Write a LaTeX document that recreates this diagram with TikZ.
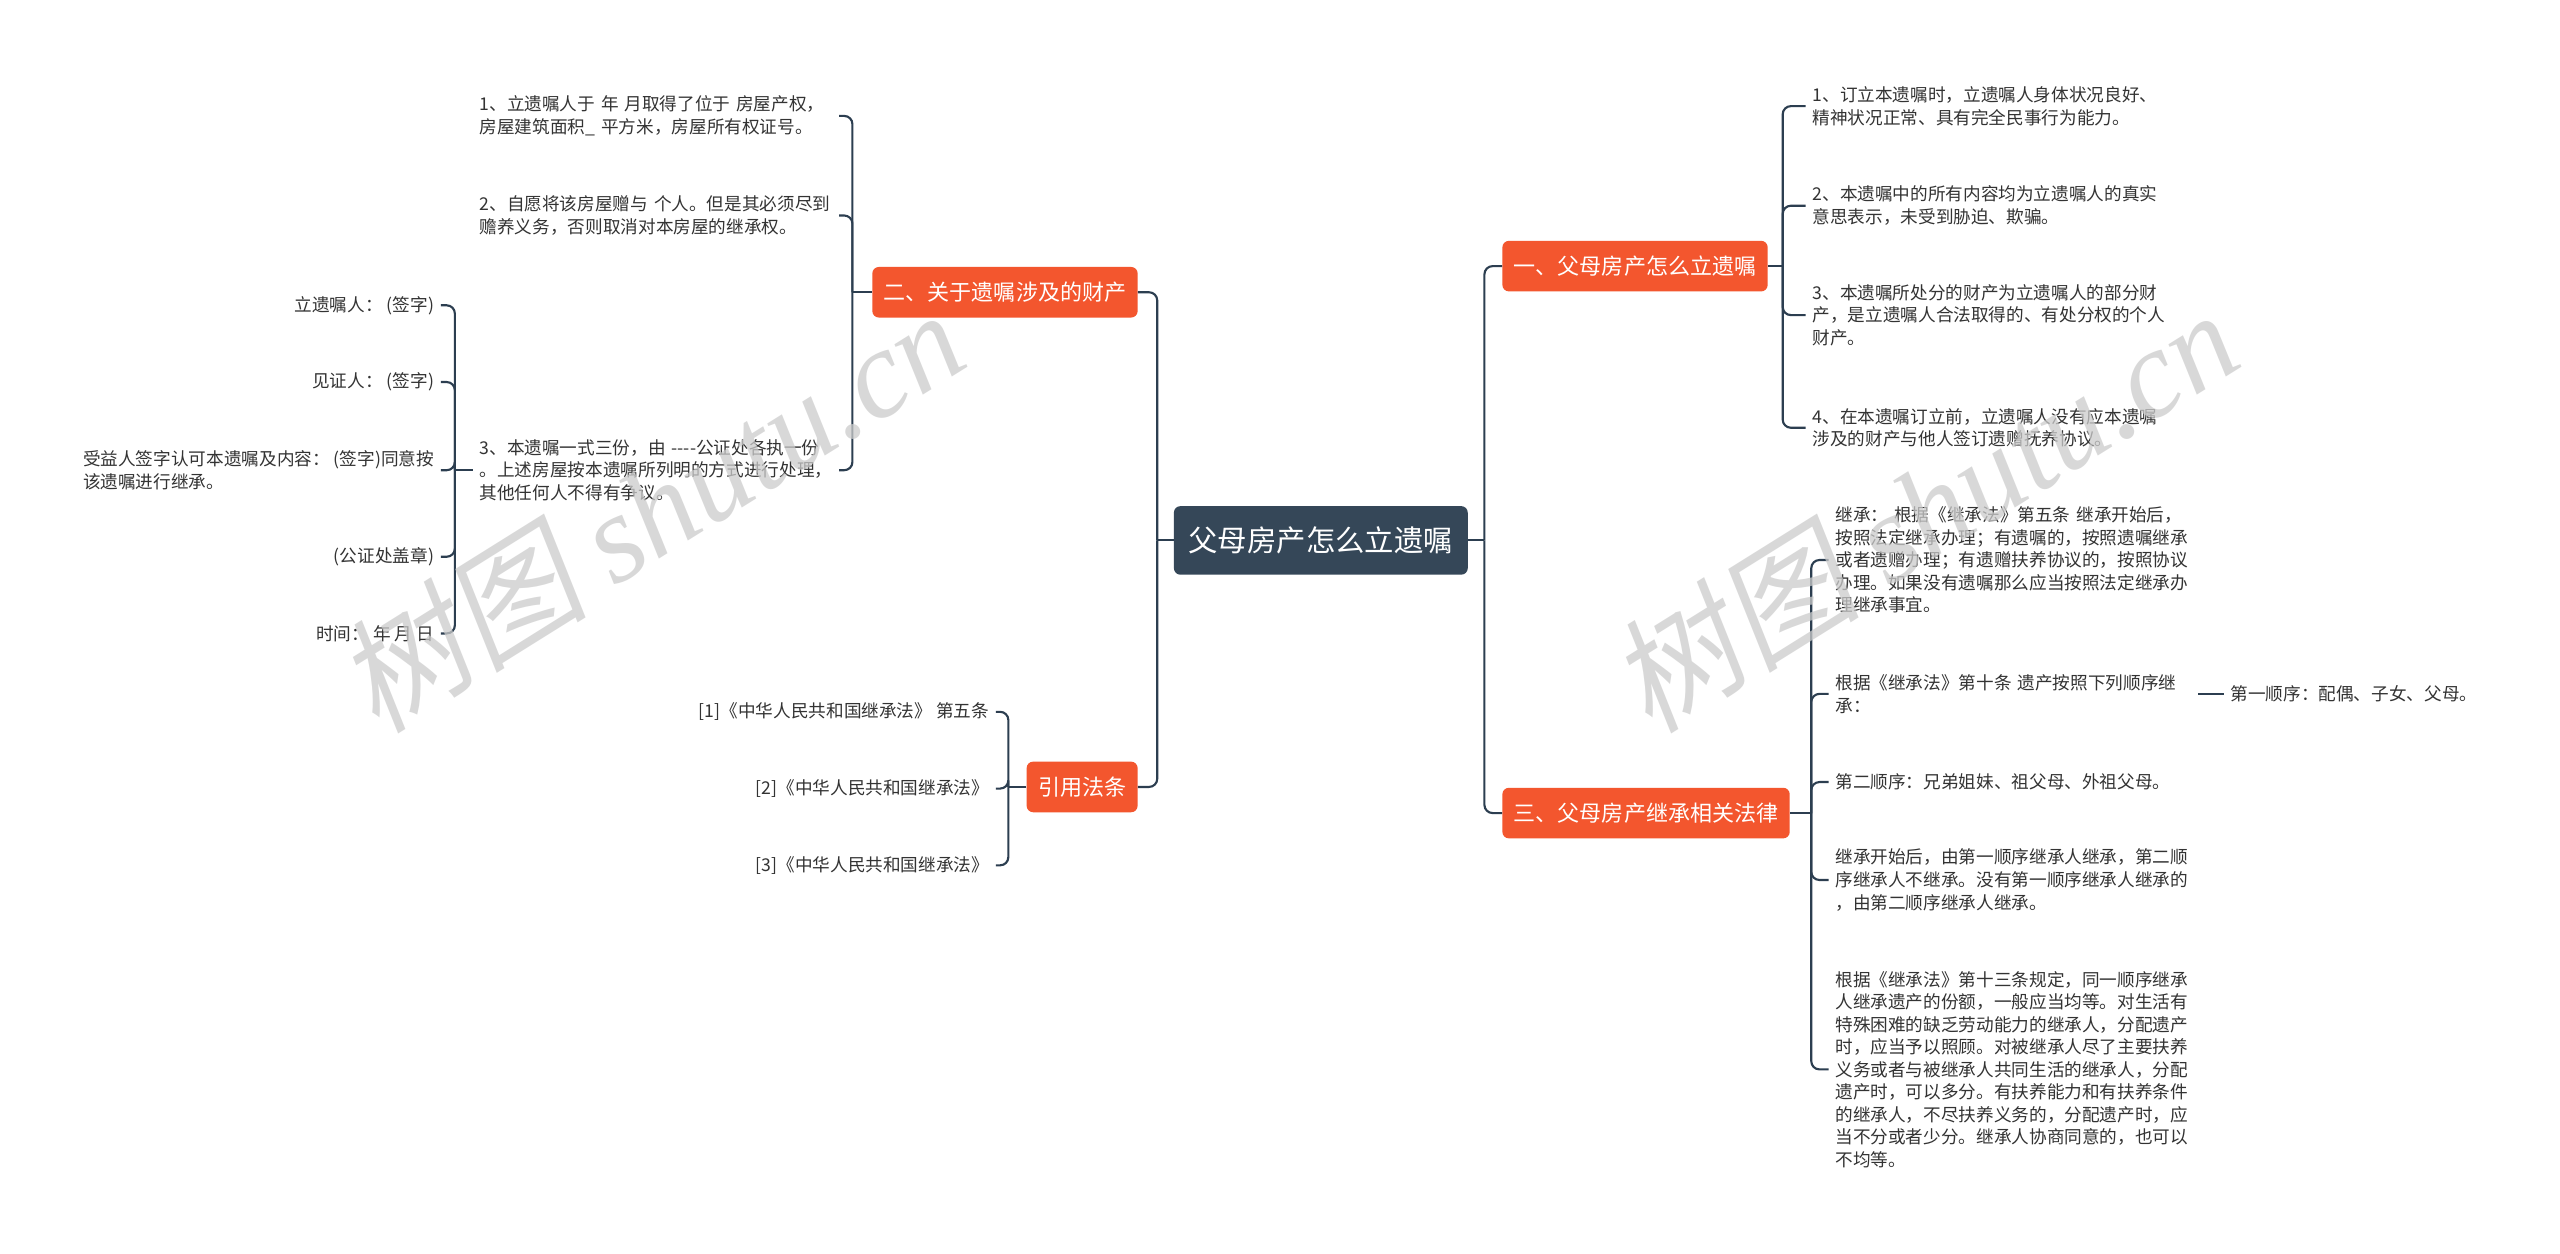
\documentclass[tikz,border=0pt]{standalone}
\usepackage{fontspec}
\setmainfont{Noto Sans CJK SC}
\newfontfamily\wmcjk[FakeSlant=0.18]{Noto Sans CJK SC}
\newfontfamily\wmlatin{Liberation Serif}
\definecolor{rootfill}{RGB}{53,71,88}
\definecolor{topicfill}{RGB}{243,86,46}
\definecolor{linkcol}{RGB}{44,62,80}
\definecolor{leafcol}{RGB}{51,51,51}
\begin{document}
\begin{tikzpicture}[x=1pt,y=-1pt,
  root/.style={fill=rootfill,text=white,rounded corners=4pt,inner xsep=9pt,
    minimum height=42pt,font=\fontsize{18}{22}\selectfont},
  topic/.style={fill=topicfill,text=white,rounded corners=4pt,inner xsep=7pt,
    minimum height=31pt,font=\fontsize{13.5}{16}\selectfont},
  leaf/.style={text=leafcol,align=left,inner xsep=4pt,inner ysep=2pt,
    font=\fontsize{10.8}{13.8}\selectfont},
  link/.style={draw=linkcol,line width=1.3pt,rounded corners=5pt},
  wmark/.style={rotate=32,text=black!20,text opacity=.75,
    font=\fontsize{77}{77}\selectfont}]
 \path[use as bounding box,fill=white] (0,0) rectangle (1568,768);
 \node[root] (root) at (809,331) {父母房产怎么立遗嘱};
 \node[topic,anchor=west] (one) at (920,163) {一、父母房产怎么立遗嘱};
 \node[topic,anchor=west] (three) at (920,498) {三、父母房产继承相关法律};
 \node[topic,anchor=east] (two) at (697,179) {二、关于遗嘱涉及的财产};
 \node[topic,anchor=east] (cite) at (697,482) {引用法条};
 \begin{scope}[every node/.style={leaf,anchor=west}]
  \node (oa) at (1106,65) {1、订立本遗嘱时，立遗嘱人身体状况良好、\\精神状况正常、具有完全民事行为能力。};
  \node (ob) at (1106,126) {2、本遗嘱中的所有内容均为立遗嘱人的真实\\意思表示，未受到胁迫、欺骗。};
  \node (oc) at (1106,193) {3、本遗嘱所处分的财产为立遗嘱人的部分财\\产，是立遗嘱人合法取得的、有处分权的个人\\财产。};
  \node (od) at (1106,262) {4、在本遗嘱订立前，立遗嘱人没有应本遗嘱\\涉及的财产与他人签订遗赠抚养协议。};
 \end{scope}
 \begin{scope}[every node/.style={leaf,anchor=west,text width=218pt}]
  \node (ha) at (1120,343) {继承： 根据《继承法》第五条 继承开始后，\\按照法定继承办理；有遗嘱的，按照遗嘱继承\\或者遗赠办理；有遗赠扶养协议的，按照协议\\办理。如果没有遗嘱那么应当按照法定继承办\\理继承事宜。};
  \node (hb) at (1120,425) {根据《继承法》第十条 遗产按照下列顺序继\\承：};
  \node (hc) at (1120,479) {第二顺序：兄弟姐妹、祖父母、外祖父母。};
  \node (hd) at (1120,539) {继承开始后，由第一顺序继承人继承，第二顺\\序继承人不继承。没有第一顺序继承人继承的\\，由第二顺序继承人继承。};
  \node (he) at (1120,655) {根据《继承法》第十三条规定，同一顺序继承\\人继承遗产的份额，一般应当均等。对生活有\\特殊困难的缺乏劳动能力的继承人，分配遗产\\时，应当予以照顾。对被继承人尽了主要扶养\\义务或者与被继承人共同生活的继承人，分配\\遗产时，可以多分。有扶养能力和有扶养条件\\的继承人，不尽扶养义务的，分配遗产时，应\\当不分或者少分。继承人协商同意的，也可以\\不均等。};
 \end{scope}
 \node[leaf,anchor=west] (hf) at (1362,425) {第一顺序：配偶、子女、父母。};
 \begin{scope}[every node/.style={leaf,anchor=east,text width=216pt}]
  \node (ta) at (514,71) {1、立遗嘱人于 年 月取得了位于 房屋产权，\\房屋建筑面积\_ 平方米，房屋所有权证号。};
  \node (tb) at (514,132) {2、自愿将该房屋赠与 个人。但是其必须尽到\\赡养义务，否则取消对本房屋的继承权。};
  \node (tc) at (514,288) {3、本遗嘱一式三份，由 -{}-{}-{}-公证处各执一份\\。上述房屋按本遗嘱所列明的方式进行处理，\\其他任何人不得有争议。};
 \end{scope}
 \begin{scope}[every node/.style={leaf,anchor=east}]
  \node (sa) at (270,187) {立遗嘱人： (签字)};
  \node (sb) at (270,234) {见证人： (签字)};
  \node (sc) at (270,288) {受益人签字认可本遗嘱及内容： (签字)同意按\\该遗嘱进行继承。};
  \node (sd) at (270,341) {(公证处盖章)};
  \node (se) at (270,388) {时间：  年 月 日};
  \node (ca) at (610,436) {[1]《中华人民共和国继承法》 第五条};
  \node (cb) at (610,483) {[2]《中华人民共和国继承法》};
  \node (cc) at (610,530) {[3]《中华人民共和国继承法》};
 \end{scope}
 \draw[link] (root.east) -- ++(10,0) coordinate (rj);
 \foreach \c in {one,three} \draw[link] (rj) |- (\c.west);
 \draw[link] (root.west) -- ++(-10,0) coordinate (lj);
 \foreach \c in {two,cite} \draw[link] (lj) |- (\c.east);
 \draw[link] (one.east) -- ++(9,0) coordinate (oj);
 \foreach \c in {oa,ob,oc,od} \draw[link] (oj) |- (\c.west);
 \draw[link] (three.east) -- ++(13,0) coordinate (hj);
 \foreach \c in {ha,hb,hc,hd,he} \draw[link] (hj) |- (\c.west);
 \draw[link] (hb.east) -- (hf.west);
 \draw[link] (two.west) -- ++(-12,0) coordinate (tj);
 \foreach \c in {ta,tb,tc} \draw[link] (tj) |- (\c.east);
 \draw[link] (tc.west) -- ++(-11,0) coordinate (sj);
 \foreach \c in {sa,sb,sc,sd,se} \draw[link] (sj) |- (\c.east);
 \draw[link] (cite.west) -- ++(-11,0) coordinate (cj);
 \foreach \c in {ca,cb,cc} \draw[link] (cj) |- (\c.east);
 \foreach \wx/\wn in {398/wl,1178/wr}
  \node[wmark] (\wn) at (\wx,312) {{\wmcjk 树图} {\wmlatin\itshape shutu.cn}};
\end{tikzpicture}
\end{document}
